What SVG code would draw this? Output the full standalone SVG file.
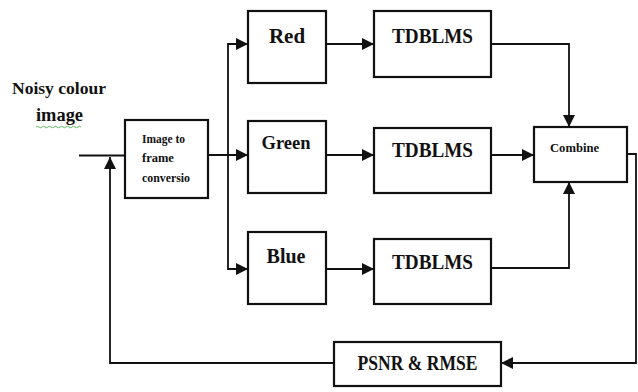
<svg xmlns="http://www.w3.org/2000/svg" width="638" height="392" viewBox="0 0 638 392">
<style>
.box{fill:#fff;stroke:#111;stroke-width:2.2}
.c{fill:none;stroke:#111;stroke-width:1.8}
</style>
<defs>
<marker id="ah" markerUnits="userSpaceOnUse" markerWidth="13" markerHeight="13" refX="12" refY="6" orient="auto">
<path d="M0,0 L12,6 L0,12 z" fill="#111"/>
</marker>
</defs>
<rect width="638" height="392" fill="#fff"/>
<g id="label-input">
<text x="12" y="94" font-family="Liberation Serif" font-weight="700" fill="#111" font-size="17.5" textLength="94" lengthAdjust="spacingAndGlyphs">Noisy colour</text>
<text x="36" y="121" font-family="Liberation Serif" font-weight="700" fill="#111" font-size="18.5" textLength="47" lengthAdjust="spacingAndGlyphs">image</text>
<path d="M36,127 q1.5,-1.5 3,0 t3,0 t3,0 t3,0 t3,0 t3,0 t3,0 t3,0 t3,0 t3,0 t3,0 t3,0 t3,0 t3,0 t3,0" fill="none" stroke="#4caf50" stroke-width="0.9"/>
</g>
<g id="image-to-frame">
<rect class="box" x="125" y="120" width="83" height="78"/>
<text x="142" y="143" font-family="Liberation Serif" font-weight="700" fill="#111" font-size="12.5" textLength="43" lengthAdjust="spacingAndGlyphs">Image to</text>
<text x="142" y="162" font-family="Liberation Serif" font-weight="700" fill="#111" font-size="12.5">frame</text>
<text x="142" y="182" font-family="Liberation Serif" font-weight="700" fill="#111" font-size="12.5" textLength="48" lengthAdjust="spacingAndGlyphs">conversio</text>
</g>
<g id="red">
<rect class="box" x="248" y="11" width="78" height="72"/>
<text x="287" y="43" font-family="Liberation Serif" font-weight="700" fill="#111" font-size="21" text-anchor="middle">Red</text>
</g>
<g id="green">
<rect class="box" x="248" y="121" width="78" height="72"/>
<text x="286" y="149" font-family="Liberation Serif" font-weight="700" fill="#111" font-size="18.5" text-anchor="middle">Green</text>
</g>
<g id="blue">
<rect class="box" x="248" y="232" width="78" height="72"/>
<text x="286" y="263" font-family="Liberation Serif" font-weight="700" fill="#111" font-size="20" text-anchor="middle">Blue</text>
</g>
<g id="tdblms-red">
<rect class="box" x="374" y="11" width="117" height="66"/>
<text x="432.5" y="43" font-family="Liberation Serif" font-weight="700" fill="#111" font-size="21" text-anchor="middle" textLength="81" lengthAdjust="spacingAndGlyphs">TDBLMS</text>
</g>
<g id="tdblms-green">
<rect class="box" x="374" y="128" width="117" height="65"/>
<text x="432.5" y="157" font-family="Liberation Serif" font-weight="700" fill="#111" font-size="21" text-anchor="middle" textLength="81" lengthAdjust="spacingAndGlyphs">TDBLMS</text>
</g>
<g id="tdblms-blue">
<rect class="box" x="374" y="239" width="117" height="65"/>
<text x="432.5" y="269" font-family="Liberation Serif" font-weight="700" fill="#111" font-size="21" text-anchor="middle" textLength="81" lengthAdjust="spacingAndGlyphs">TDBLMS</text>
</g>
<g id="combine">
<rect class="box" x="534" y="127" width="93" height="55"/>
<text x="550" y="152" font-family="Liberation Serif" font-weight="700" fill="#111" font-size="12.5" textLength="49" lengthAdjust="spacingAndGlyphs">Combine</text>
</g>
<g id="psnr-rmse">
<rect class="box" x="334" y="342" width="167" height="44"/>
<text x="417.5" y="370" font-family="Liberation Serif" font-weight="700" fill="#111" font-size="20" text-anchor="middle" textLength="120" lengthAdjust="spacingAndGlyphs">PSNR &amp; RMSE</text>
</g>
<g id="connectors">
<path class="c" d="M79,155.5 H125"/>
<path class="c" d="M208,155 H248" marker-end="url(#ah)"/>
<path class="c" d="M236,44 H228 V269 H248" marker-end="url(#ah)"/>
<path class="c" d="M228,44 H248" marker-end="url(#ah)"/>
<path class="c" d="M326,44 H374" marker-end="url(#ah)"/>
<path class="c" d="M326,155 H374" marker-end="url(#ah)"/>
<path class="c" d="M326,269 H374" marker-end="url(#ah)"/>
<path class="c" d="M491,44 H569 V127" marker-end="url(#ah)"/>
<path class="c" d="M491,155 H534" marker-end="url(#ah)"/>
<path class="c" d="M491,268 H569 V182" marker-end="url(#ah)"/>
<path class="c" d="M627,154 H636 V363 H501" marker-end="url(#ah)"/>
<path class="c" d="M334,363 H110 V157" marker-end="url(#ah)"/>
</g>
</svg>
